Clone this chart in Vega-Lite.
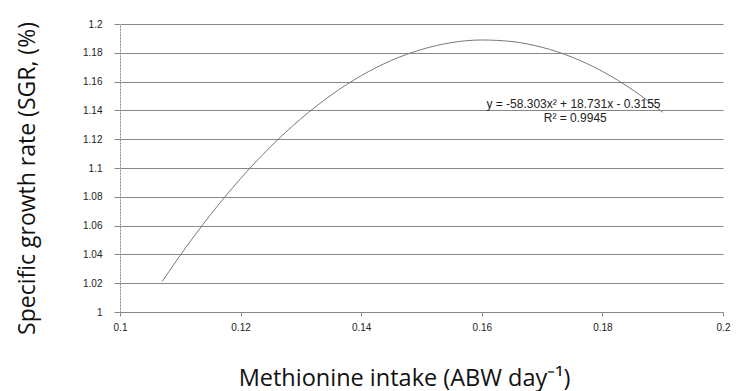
{
  "$schema": "https://vega.github.io/schema/vega-lite/v6.json",
  "autosize": "none",
  "width": 603,
  "height": 288,
  "padding": {"left": 120, "top": 24, "right": 13, "bottom": 79},
  "background": "white",
  "config": {
    "view": {"stroke": null},
    "axis": {"labelFont": "Liberation Sans", "labelFontSize": 10, "labelColor": "#222", "labelOverlap": false, "titleFont": "Open Sans", "titleFontWeight": "normal", "titleFontSize": 23, "titleColor": "#111"}
  },
  "datasets": {
    "curve": [
      {"x": 0.107, "y": 1.0212},
      {"x": 0.110, "y": 1.0394},
      {"x": 0.115, "y": 1.0675},
      {"x": 0.120, "y": 1.0927},
      {"x": 0.125, "y": 1.1149},
      {"x": 0.130, "y": 1.1342},
      {"x": 0.135, "y": 1.1506},
      {"x": 0.140, "y": 1.1641},
      {"x": 0.145, "y": 1.1747},
      {"x": 0.150, "y": 1.1823},
      {"x": 0.155, "y": 1.1871},
      {"x": 0.160, "y": 1.1889},
      {"x": 0.165, "y": 1.1878},
      {"x": 0.170, "y": 1.1838},
      {"x": 0.175, "y": 1.1769},
      {"x": 0.180, "y": 1.1671},
      {"x": 0.185, "y": 1.1543},
      {"x": 0.190, "y": 1.1387}
    ],
    "labels": [
      {"x": 0.1752, "y": 1.1444, "text": "y = -58.303x² + 18.731x - 0.3155"},
      {"x": 0.1755, "y": 1.1347, "text": "R² = 0.9945"}
    ]
  },
  "layer": [
    {
      "data": {"name": "curve"},
      "mark": {"type": "line", "color": "#777", "strokeWidth": 1, "interpolate": "monotone"},
      "encoding": {
        "x": {"field": "x", "type": "quantitative", "scale": {"domain": [0.1, 0.2], "nice": false},
          "axis": {"values": [0.1, 0.12, 0.14, 0.16, 0.18, 0.2], "tickCount": 20, "format": "~g", "grid": false, "domainColor": "#888", "domainDash": [2, 1], "tickColor": "#888", "tickSize": 4, "labelPadding": 6, "labelFlush": false,
            "title": "Methionine intake (ABW day⁻¹)", "titleFontSize": 23.5, "titleX": 284, "titleY": 73, "titleBaseline": "alphabetic", "titleAnchor": "middle"}},
        "y": {"field": "y", "type": "quantitative", "scale": {"domain": [1, 1.2], "nice": false, "zero": false},
          "axis": {"values": [1, 1.02, 1.04, 1.06, 1.08, 1.1, 1.12, 1.14, 1.16, 1.18, 1.2], "tickCount": 20, "format": "~g", "grid": true, "gridColor": "#888", "gridWidth": 1, "domainColor": "#888", "domainDash": [2, 1], "tickColor": "#888", "tickSize": 6, "labelPadding": 12,
            "title": "Specific growth rate (SGR, (%)", "titleX": -93, "titleY": 154, "titleAnchor": "middle", "titleAngle": -90, "titleBaseline": "middle"}}
      }
    },
    {
      "data": {"name": "labels"},
      "mark": {"type": "text", "font": "Liberation Sans", "fontSize": 12, "color": "#222", "align": "center", "baseline": "middle"},
      "encoding": {
        "x": {"field": "x", "type": "quantitative"},
        "y": {"field": "y", "type": "quantitative"},
        "text": {"field": "text"}
      }
    }
  ]
}
